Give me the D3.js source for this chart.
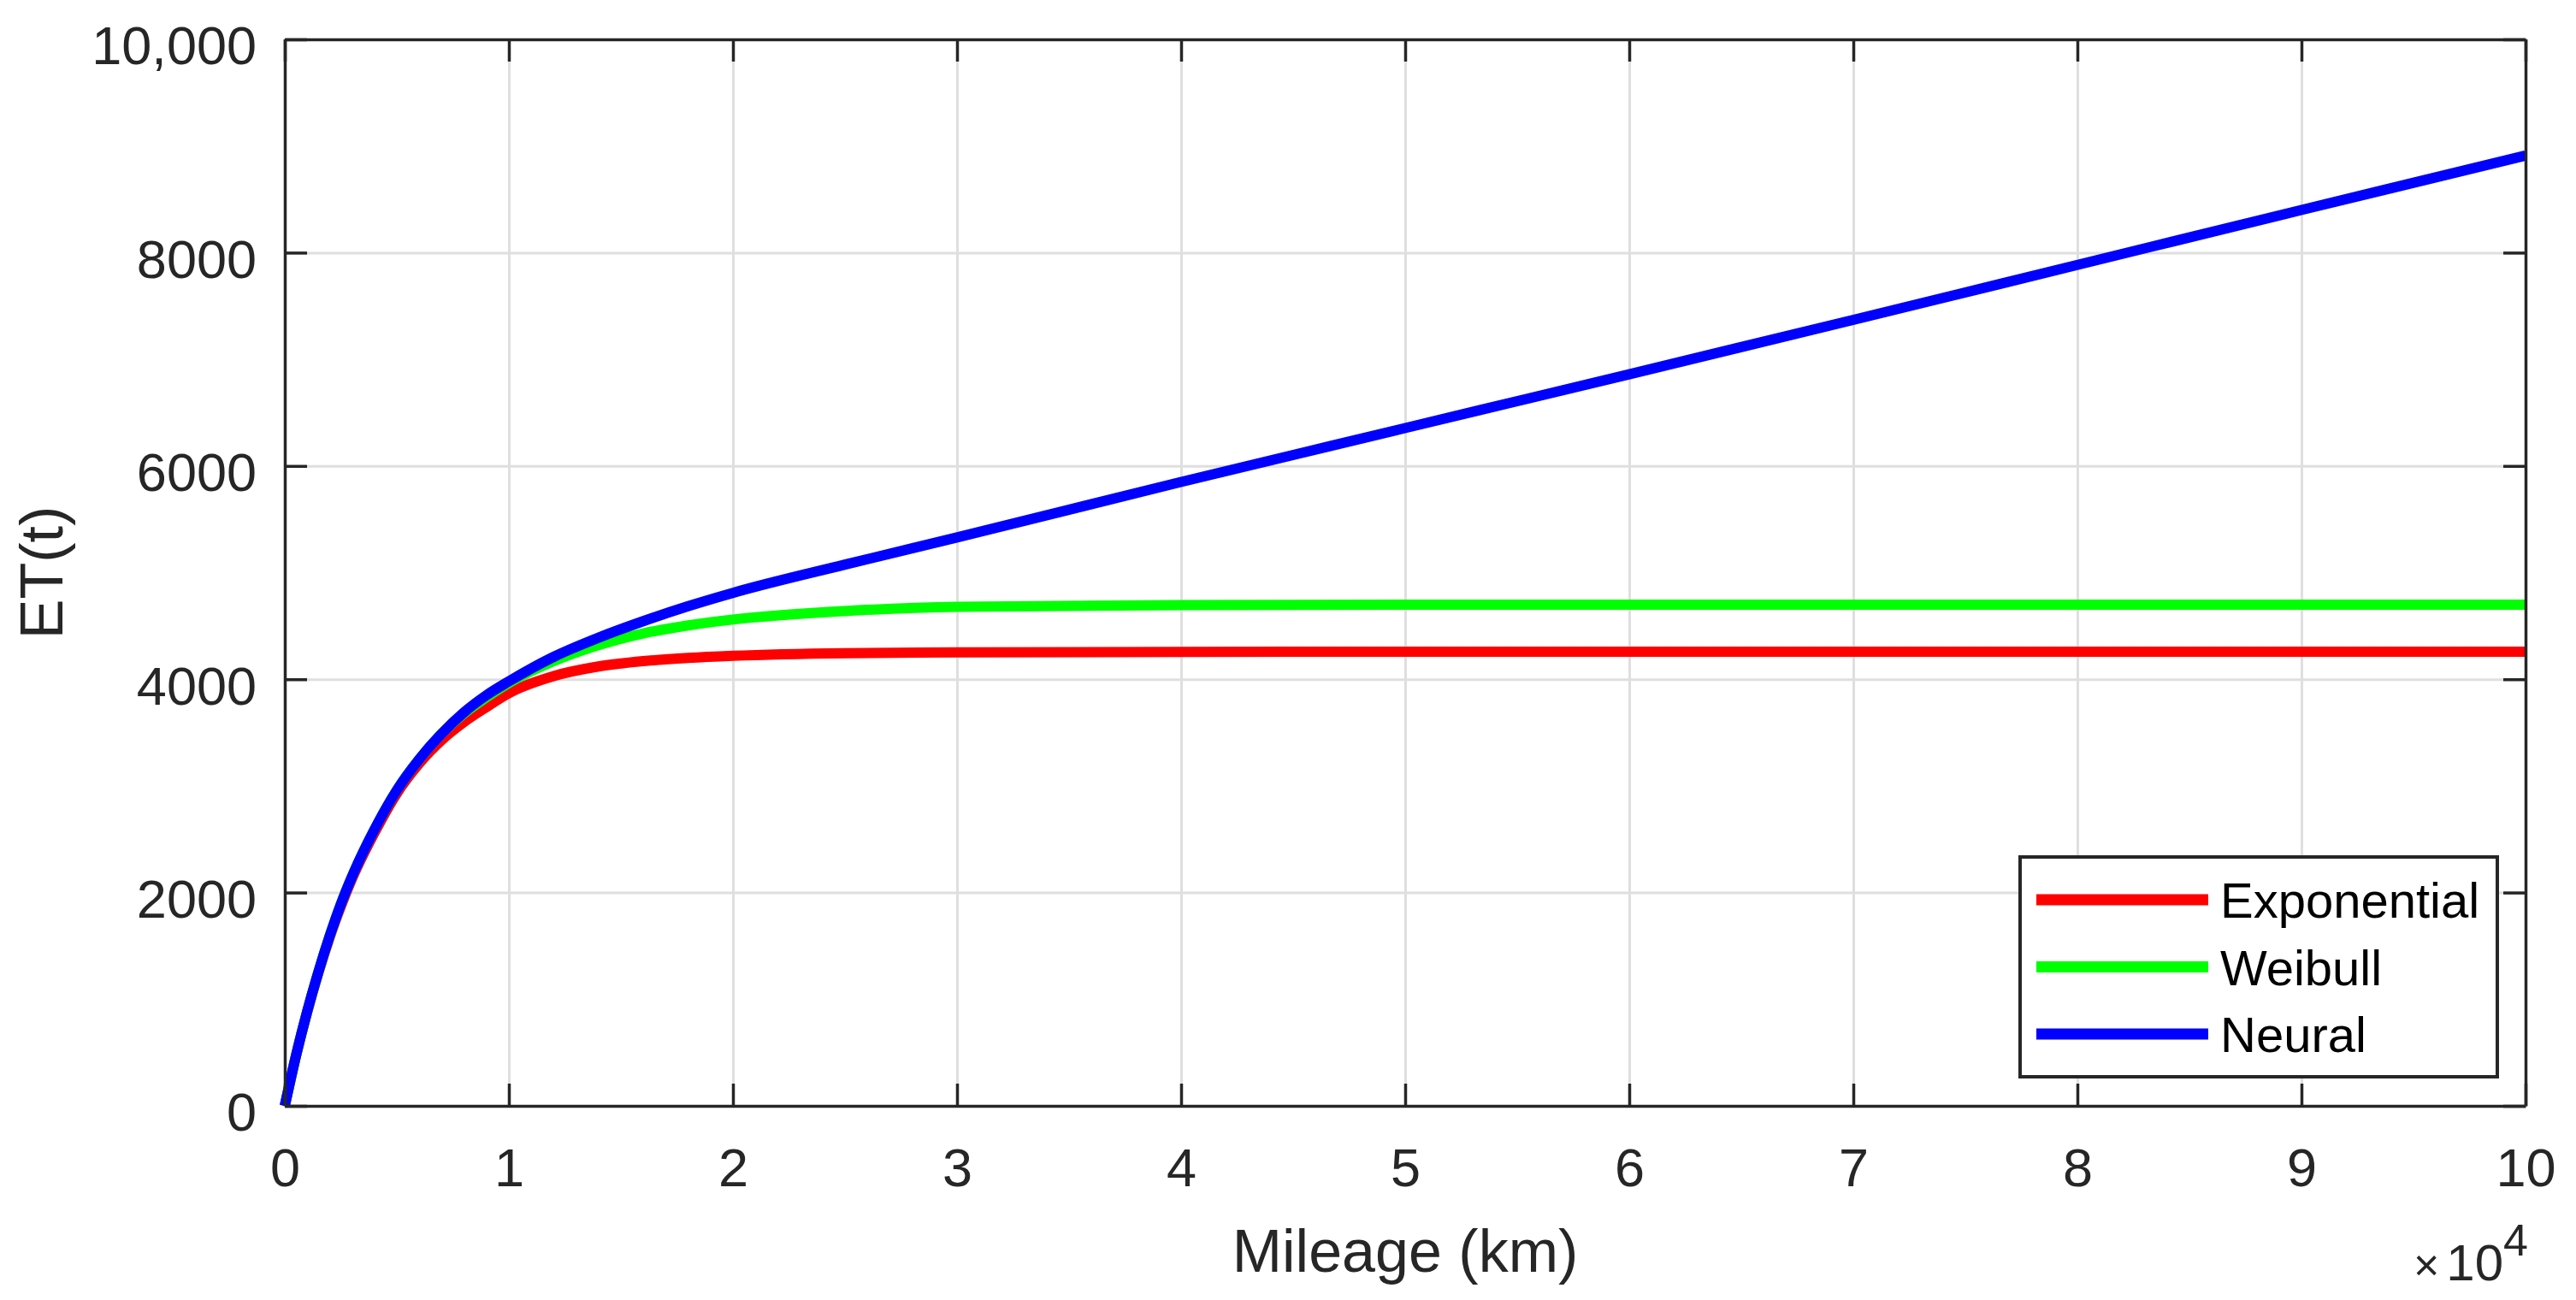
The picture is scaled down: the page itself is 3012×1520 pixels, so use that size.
<!DOCTYPE html>
<html>
<head>
<meta charset="utf-8">
<script src="https://cdn.jsdelivr.net/npm/d3@7"></script>
<style>
  html, body { margin: 0; padding: 0; background: #fff; }
  svg { display: block; font-family: "Liberation Sans", Arial, sans-serif; }
</style>
</head>
<body>
<script>
var mileage = [0, 500, 1000, 1500, 2000, 2500, 3000, 4000, 5000, 6000, 7000, 8000, 9000, 10000,
  12000, 14000, 16000, 18000, 20000, 25000, 30000, 40000, 50000, 60000, 70000, 80000, 90000, 100000];

var exponential = [0, 470, 880, 1250, 1580, 1870, 2130, 2560, 2930, 3210, 3430, 3600, 3740, 3870,
  4030, 4120, 4170, 4200, 4220, 4245, 4252, 4257, 4258, 4258, 4258, 4258, 4258, 4258];

var weibull = [0, 470, 885, 1255, 1590, 1890, 2150, 2590, 2960, 3250, 3490, 3680, 3830, 3965,
  4170, 4320, 4430, 4505, 4560, 4640, 4680, 4695, 4700, 4700, 4700, 4700, 4700, 4700];

var neural = [0, 470, 885, 1255, 1590, 1890, 2150, 2590, 2960, 3250, 3490, 3690, 3850, 3980,
  4210, 4390, 4545, 4685, 4810, 5075, 5330, 5850, 6355, 6860, 7370, 7885, 8400, 8910];

var seriesNames = ["Exponential", "Weibull", "Neural"];
var seriesColors = ["#ff0000", "#00ff00", "#0000ff"];
var seriesValues = [exponential, weibull, neural];

var xTicks = [0, 10000, 20000, 30000, 40000, 50000, 60000, 70000, 80000, 90000, 100000];
var yTicks = [0, 2000, 4000, 6000, 8000, 10000];

// size and plot box
var W = 3012, H = 1520;
var plotLeft = 333, plotRight = 2953, plotTop = 46, plotBottom = 1293;
var ink = "#262626";

var x = d3.scaleLinear().domain([0, 100000]).range([plotLeft, plotRight]);
var y = d3.scaleLinear().domain([0, 10000]).range([plotBottom, plotTop]);

var svg = d3.select("body").append("svg")
  .attr("width", W)
  .attr("height", H);

// grid
svg.append("g")
  .attr("class", "grid")
  .attr("transform", "translate(0," + plotBottom + ")")
  .call(d3.axisBottom(x).tickValues(xTicks).tickSize(-(plotBottom - plotTop)).tickFormat(""))
  .call(g => g.select(".domain").remove());

svg.append("g")
  .attr("class", "grid")
  .attr("transform", "translate(" + plotLeft + ",0)")
  .call(d3.axisLeft(y).tickValues(yTicks).tickSize(-(plotRight - plotLeft)).tickFormat(""))
  .call(g => g.select(".domain").remove());

svg.selectAll(".grid line")
  .attr("stroke", "#dfdfdf")
  .attr("stroke-width", 3);

// lines
var line = d3.line()
  .x(d => x(d[0]))
  .y(d => y(d[1]))
  .curve(d3.curveMonotoneX);

seriesValues.forEach(function (vals, i) {
  svg.append("path")
    .datum(mileage.map((m, j) => [m, vals[j]]))
    .attr("fill", "none")
    .attr("stroke", seriesColors[i])
    .attr("stroke-width", 12)
    .attr("stroke-linejoin", "round")
    .attr("d", line);
});

// axes (box with inward ticks)
var tickLen = 26;

var xAxis = svg.append("g")
  .attr("transform", "translate(0," + plotBottom + ")")
  .call(d3.axisBottom(x).tickValues(xTicks).tickSize(-tickLen).tickSizeOuter(0)
    .tickPadding(49).tickFormat(d => d / 10000));

var yAxis = svg.append("g")
  .attr("transform", "translate(" + plotLeft + ",0)")
  .call(d3.axisLeft(y).tickValues(yTicks).tickSize(-tickLen).tickSizeOuter(0)
    .tickPadding(33).tickFormat(d => d >= 10000 ? d3.format(",")(d) : d));

var xTop = svg.append("g")
  .attr("transform", "translate(0," + plotTop + ")")
  .call(d3.axisTop(x).tickValues(xTicks).tickSize(-tickLen).tickSizeOuter(0).tickFormat(""));

var yRight = svg.append("g")
  .attr("transform", "translate(" + plotRight + ",0)")
  .call(d3.axisRight(y).tickValues(yTicks).tickSize(-tickLen).tickSizeOuter(0).tickFormat(""));

[xAxis, yAxis, xTop, yRight].forEach(function (g) {
  g.select(".domain").attr("stroke", ink).attr("stroke-width", 3.5);
  g.selectAll(".tick line").attr("stroke", ink).attr("stroke-width", 3.5);
  g.selectAll(".tick text")
    .attr("fill", ink)
    .attr("font-size", 63)
    .attr("font-family", "Liberation Sans, Arial, sans-serif");
});
yAxis.selectAll(".tick text").attr("dy", "0.46em");

// exponent label
var expo = svg.append("text")
  .attr("x", 2956)
  .attr("y", 1497)
  .attr("text-anchor", "end")
  .attr("fill", ink)
  .attr("font-size", 60);
expo.append("tspan").text("\u00d7").attr("font-size", 52);
expo.append("tspan").text("10").attr("dx", 8);
expo.append("tspan").text("4").attr("font-size", 52).attr("dy", -29);

// axis titles
svg.append("text")
  .attr("x", (plotLeft + plotRight) / 2)
  .attr("y", 1487)
  .attr("text-anchor", "middle")
  .attr("fill", ink)
  .attr("font-size", 70)
  .text("Mileage (km)");

svg.append("text")
  .attr("transform", "translate(73," + (plotTop + plotBottom) / 2 + ") rotate(-90)")
  .attr("text-anchor", "middle")
  .attr("fill", ink)
  .attr("font-size", 70)
  .text("ET(t)");

// legend
var legend = svg.append("g");
legend.append("rect")
  .attr("x", 2362)
  .attr("y", 1002)
  .attr("width", 558)
  .attr("height", 257)
  .attr("fill", "#fff")
  .attr("stroke", ink)
  .attr("stroke-width", 4);

seriesNames.forEach(function (name, i) {
  var ly = 1052 + i * 78.5;
  legend.append("line")
    .attr("x1", 2381)
    .attr("x2", 2582)
    .attr("y1", ly)
    .attr("y2", ly)
    .attr("stroke", seriesColors[i])
    .attr("stroke-width", 13);
  legend.append("text")
    .attr("x", 2596)
    .attr("y", ly + 21)
    .attr("fill", "#000")
    .attr("font-size", 58)
    .text(name);
});
</script>
</body>
</html>
